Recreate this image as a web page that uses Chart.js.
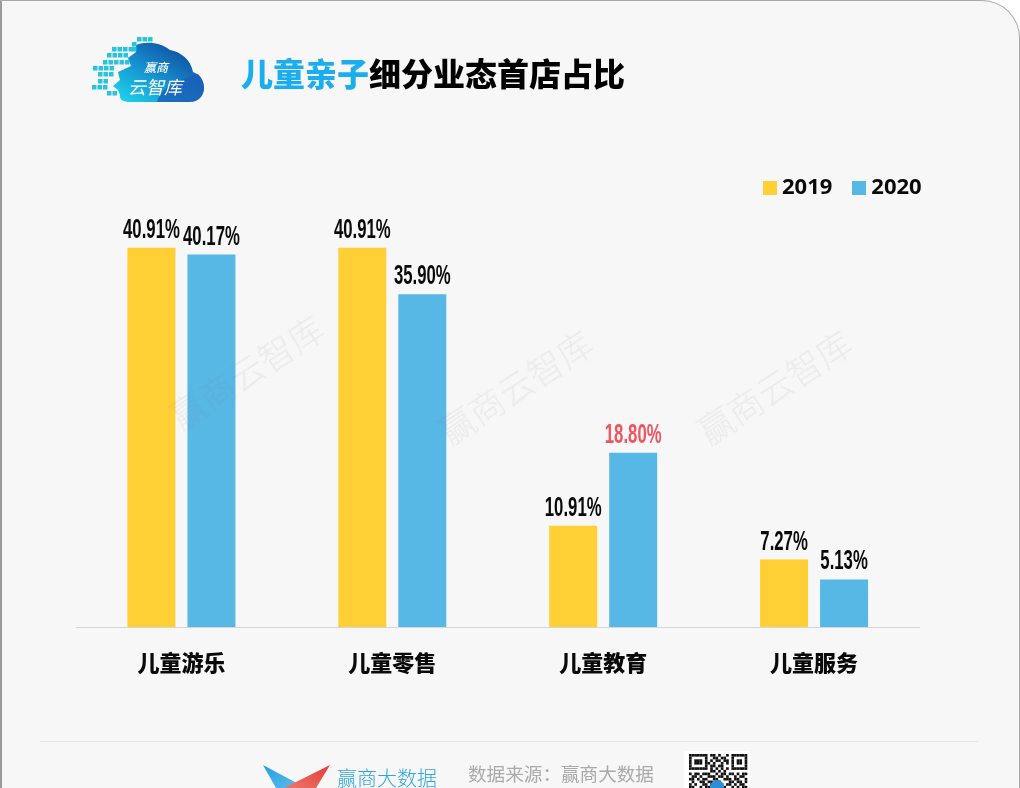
<!DOCTYPE html>
<html lang="zh">
<head>
<meta charset="utf-8">
<script src="https://cdn.jsdelivr.net/npm/chart.js@4"></script>
<style>
html,body{margin:0;padding:0;width:1020px;height:788px;overflow:hidden;background:#fff}
#panel{position:absolute;left:0;top:0;width:1020px;height:800px;background:#f7f7f7;border:1px solid #a8a8a8;border-left:2px solid #9a9a9a;border-bottom:0;box-sizing:border-box;border-top-right-radius:38px}
#wrap{position:absolute;left:0;top:0;width:1020px;height:788px}
canvas{display:block}
.t{position:absolute;white-space:nowrap;font-family:"Noto Sans CJK SC",sans-serif}
#title{left:241px;top:49px;font-size:32px;line-height:46px;font-weight:900;color:#000}
#title b{color:#1aaeee;font-weight:900}
.wm{position:absolute;font-family:"Noto Sans CJK SC",sans-serif;font-size:35px;font-weight:300;line-height:40px;color:rgba(130,130,130,.10);transform:translate(-50%,-50%) rotate(-33deg);white-space:nowrap}
#sep{position:absolute;left:40px;top:741px;width:938px;height:1px;background:#e4e4e4}
#brand{left:337px;top:763px;font-size:20px;line-height:30px;color:#2fa5e0;font-weight:300}
#source{left:468px;top:758px;font-size:18.6px;line-height:30px;color:#aaaaaa;font-weight:400}
svg{position:absolute;left:0;top:0}
</style>
</head>
<body>
<div id="panel"></div>
<svg id="deco" width="1020" height="788" viewBox="0 0 1020 788" xmlns="http://www.w3.org/2000/svg">
<defs>
<linearGradient id="cg" x1="0" y1="1" x2="1" y2="0">
<stop offset="0" stop-color="#1fdcf0"/><stop offset=".45" stop-color="#1591cf"/><stop offset="1" stop-color="#0e3390"/>
</linearGradient>
<linearGradient id="fb" x1="0" y1="0" x2="1" y2="1"><stop offset="0" stop-color="#1ea0e6"/><stop offset="1" stop-color="#64bde8"/></linearGradient>
<linearGradient id="fr" x1="1" y1="0" x2="0" y2="1"><stop offset="0" stop-color="#e83a3a"/><stop offset="1" stop-color="#e87a6a"/></linearGradient>
</defs>
<path fill="url(#cg)" d="M120 95 C119 100 124 102 130 102 L188 102 C198 102 204 96 204 88 C204 80 199 74 193 72 C191 60 181 52 170 50 C160 42 146 41 136 45 L136 52 L128 58 L131 66 L118 72 L120 80 L113 86 L118 90Z"/>
<path fill="#1a5fb8" opacity=".8" d="M157 102 C162 84 185 78 198 74 C204 80 205 88 203 93 C201 99 196 102 190 102Z"/>
<g id="dots" fill="#27c5dd"></g>
<path fill="url(#fb)" d="M263 765 L306 788 L276 788Z"/>
<path fill="url(#fr)" d="M330 765 L316 788 L284 788Z"/>
<rect x="684" y="751" width="66" height="37" fill="#ffffff"/>
<g id="qr" fill="#111111"></g>
<circle cx="717" cy="787" r="7" fill="#2b8fd6"/>
</svg>
<div id="wrap"><canvas id="c" width="1020" height="788"></canvas></div>
<div class="wm" style="left:246px;top:371px">赢商云智库</div>
<div class="wm" style="left:515px;top:386px">赢商云智库</div>
<div class="wm" style="left:774px;top:386px">赢商云智库</div>
<div class="t" style="left:144px;top:57px;font-size:12px;line-height:20px;font-style:italic;font-weight:500;color:#fff">赢商</div>
<div class="t" style="left:128px;top:73px;font-size:18px;line-height:26px;font-style:italic;font-weight:400;color:#fff">云智库</div>
<div class="t" id="title"><b>儿童亲子</b>细分业态首店占比</div>
<div id="sep"></div>
<div class="t" id="brand">赢商大数据</div>
<div class="t" id="source">数据来源&#xFF1A;赢商大数据</div>
<script>
const categories = ['儿童游乐', '儿童零售', '儿童教育', '儿童服务'];
const years = ['2019', '2020'];
const values2019 = [40.91, 40.91, 10.91, 7.27];
const values2020 = [40.17, 35.90, 18.80, 5.13];
const color2019 = '#ffcf36';
const color2020 = '#57b7e5';
const highlightValue = 18.80;

// decorative logo squares
const dotRows = [[37,137,3],[42,132,1],[47,112,4],[47,132,1],[53,107,4],[60,103,5],[66,93,4],[72,98,3],[79,98,2],[85,92,3],[91,107,2]];
const dots = document.getElementById('dots');
let dotSvg = '';
dotRows.forEach(r => { for (let i = 0; i < r[2]; i++) dotSvg += `<rect x="${r[1] + i * 5.5}" y="${r[0]}" width="4.5" height="4.5"/>`; });
dots.innerHTML = dotSvg;

// decorative QR picture
const qrRows = [
'1111111011010010111111',
'1000001001101100100001',
'1011101010110110101101',
'1011101101001010101101',
'1000001011011000100001',
'1111111010101010111111',
'0000000011010100000000',
'1011011100101101101011',
'0110100111011010010110',
'1101011001100111011001',
'0100110110110001101101',
'1010011011001011010110',
'1100101100110100101011',
'0111010010101101110100',
'1001101101010011001110'
];
let qrSvg = '';
qrRows.forEach((row, y) => [...row].forEach((c, x) => {
  if (c === '1') qrSvg += `<rect x="${689 + x * 2.65}" y="${754 + y * 2.65}" width="2.65" height="2.65"/>`;
}));
document.getElementById('qr').innerHTML = qrSvg;

function swatch(color) {
  const cv = document.createElement('canvas');
  cv.width = 14; cv.height = 14;
  const g = cv.getContext('2d');
  g.fillStyle = color; g.fillRect(0, 0, 14, 14);
  return cv;
}
const swatches = [swatch(color2019), swatch(color2020)];

const barLabels = {
  id: 'barLabels',
  afterDatasetsDraw(chart) {
    const ctx = chart.ctx;
    chart.data.datasets.forEach((ds, di) => {
      chart.getDatasetMeta(di).data.forEach((bar, i) => {
        const v = ds.data[i];
        ctx.save();
        ctx.translate(bar.x, bar.y - 10);
        ctx.scale(0.62, 1);
        ctx.font = 'bold 27px "Liberation Sans"';
        ctx.textAlign = 'center';
        ctx.textBaseline = 'alphabetic';
        ctx.fillStyle = v === highlightValue ? '#f0555f' : '#0a0a0a';
        ctx.fillText(v.toFixed(2) + '%', 0, 0);
        ctx.restore();
      });
    });
  }
};
const legendPlace = {
  id: 'legendPlace',
  afterLayout(chart) {
    const l = chart.legend;
    const w = l.right - l.left;
    l.left = 743; l.right = l.left + w;
    l.top = 151; l.bottom = l.top + l.height;
  }
};

new Chart(document.getElementById('c'), {
  type: 'bar',
  data: {
    labels: categories,
    datasets: [
      { label: years[0], data: values2019, backgroundColor: color2019 },
      { label: years[1], data: values2020, backgroundColor: color2020 }
    ]
  },
  plugins: [barLabels, legendPlace],
  options: {
    responsive: false,
    animation: false,
    layout: { padding: { left: 76, right: 100.5, top: 105.4, bottom: 111 } },
    datasets: { bar: { categoryPercentage: 0.569, barPercentage: 0.8 } },
    scales: {
      x: {
        afterFit(s) { s.height = 50; },
        grid: { display: false, drawTicks: false },
        border: { display: true, color: '#d6d6d6', width: 1 },
        ticks: { padding: 22, color: '#0a0a0a', maxRotation: 0,
          font: { family: '"Noto Sans CJK SC"', size: 22, weight: '900' } }
      },
      y: { display: false, min: 0, max: 50 }
    },
    plugins: {
      tooltip: { enabled: false },
      title: { display: false },
      legend: {
        display: true,
        position: 'top',
        align: 'start',
        labels: {
          usePointStyle: true,
          pointStyleWidth: 2,
          boxHeight: 14,
          padding: 26,
          color: '#0a0a0a',
          font: { family: '"Open Sans"', size: 22, weight: '700', lineHeight: 1 },
          generateLabels(chart) {
            const items = Chart.defaults.plugins.legend.labels.generateLabels(chart);
            items.forEach((it, i) => { it.pointStyle = swatches[i]; });
            return items;
          }
        }
      }
    }
  }
});
</script>
</body>
</html>
